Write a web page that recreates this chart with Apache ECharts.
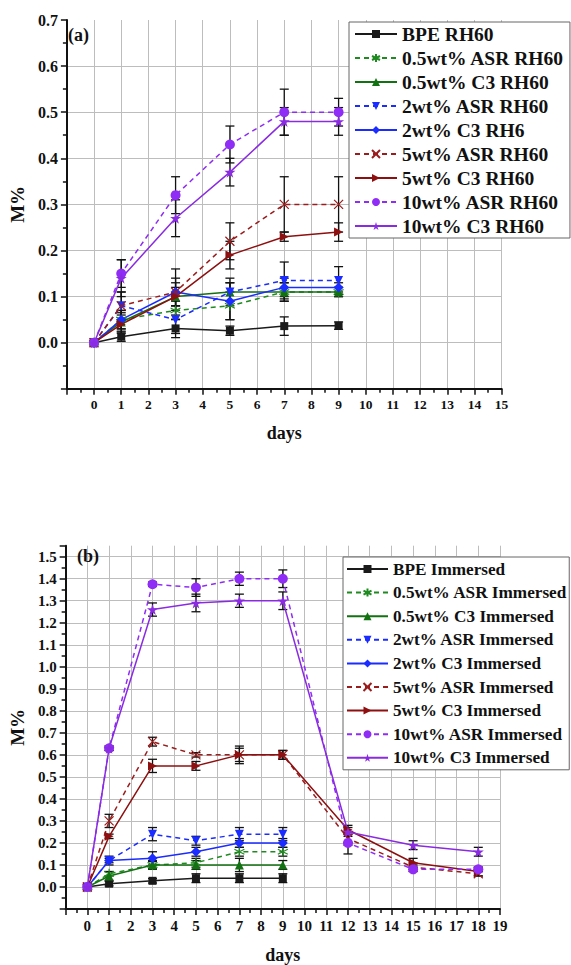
<!DOCTYPE html>
<html><head><meta charset="utf-8">
<script src="https://cdn.jsdelivr.net/npm/echarts@6/dist/echarts.min.js"></script>
<style>html,body{margin:0;padding:0;background:#fff}#c{width:571px;height:965px}</style>
</head><body><div id="c"></div>
<script>
// ---------- data ----------
const daysA = [0, 1, 3, 5, 7, 9];
const daysB = [0, 1, 3, 5, 7, 9, 12, 15, 18];
const namesA = ['BPE RH60', '0.5wt% ASR RH60', '0.5wt% C3 RH60', '2wt% ASR RH60', '2wt% C3 RH6',
  '5wt% ASR RH60', '5wt% C3 RH60', '10wt% ASR RH60', '10wt% C3 RH60'];
const namesB = ['BPE Immersed', '0.5wt% ASR Immersed', '0.5wt% C3 Immersed', '2wt% ASR Immersed', '2wt% C3 Immersed',
  '5wt% ASR Immersed', '5wt% C3 Immersed', '10wt% ASR Immersed', '10wt% C3 Immersed'];
const xTicksA = [0, 15];
const xTicksB = [0, 19];

// (a) RH60 values and errors
const aBPE = [0, 0.013, 0.031, 0.026, 0.036, 0.037];
const aBPEErr = [0, 0.01, 0.02, 0.01, 0.02, 0.008];
const aASR05 = [0, 0.05, 0.07, 0.08, 0.11, 0.11];
const aASR05Err = [0, 0.02, 0.02, 0.03, 0.02, 0.01];
const aC305 = [0, 0.045, 0.10, 0.11, 0.11, 0.11];
const aC305Err = [0, 0.02, 0.02, 0.02, 0.02, 0.01];
const aASR2 = [0, 0.08, 0.05, 0.11, 0.135, 0.135];
const aASR2Err = [0, 0.03, 0.03, 0.03, 0.04, 0.03];
const aC32 = [0, 0.05, 0.11, 0.09, 0.12, 0.12];
const aC32Err = [0, 0.02, 0.03, 0.04, 0.02, 0.01];
const aASR5 = [0, 0.08, 0.11, 0.22, 0.30, 0.30];
const aASR5Err = [0, 0.03, 0.05, 0.04, 0.06, 0.06];
const aC35 = [0, 0.04, 0.10, 0.19, 0.23, 0.24];
const aC35Err = [0, 0.02, 0.03, 0.03, 0.01, 0.02];
const aASR10 = [0, 0.15, 0.32, 0.43, 0.50, 0.50];
const aASR10Err = [0, 0.03, 0.04, 0.04, 0.05, 0.03];
const aC310 = [0, 0.14, 0.27, 0.37, 0.48, 0.48];
const aC310Err = [0, 0.04, 0.04, 0.03, 0.03, 0.03];

// (b) Immersed values and errors
const bBPE = [0, 0.015, 0.028, 0.04, 0.04, 0.04];
const bBPEErr = [0, 0.01, 0.01, 0.02, 0.02, 0.02];
const bASR05 = [0, 0.06, 0.10, 0.11, 0.16, 0.16];
const bASR05Err = [0, 0.01, 0.015, 0.02, 0.02, 0.02];
const bC305 = [0, 0.05, 0.10, 0.10, 0.10, 0.10];
const bC305Err = [0, 0.02, 0.02, 0.02, 0.03, 0.02];
const bASR2 = [0, 0.12, 0.24, 0.21, 0.24, 0.24];
const bASR2Err = [0, 0.01, 0.03, 0.02, 0.03, 0.03];
const bC32 = [0, 0.12, 0.13, 0.16, 0.20, 0.20];
const bC32Err = [0, 0.02, 0.03, 0.02, 0.02, 0.02];
const bASR5 = [0, 0.30, 0.66, 0.60, 0.60, 0.60, 0.22, 0.09, 0.06];
const bASR5Err = [0, 0.03, 0.02, 0.01, 0.03, 0.02, 0.03, 0.01, 0.01];
const bC35 = [0, 0.23, 0.55, 0.55, 0.60, 0.60, 0.26, 0.11, 0.07];
const bC35Err = [0, 0.01, 0.03, 0.02, 0.04, 0.02, 0.02, 0.02, 0.02];
const bASR10 = [0, 0.63, 1.375, 1.36, 1.40, 1.40, 0.20, 0.08, 0.08];
const bASR10Err = [0, 0.01, 0.01, 0.04, 0.03, 0.04, 0.05, 0.01, 0.01];
const bC310 = [0, 0.63, 1.26, 1.29, 1.30, 1.30, 0.25, 0.19, 0.16];
const bC310Err = [0, 0.01, 0.03, 0.04, 0.03, 0.04, 0.02, 0.02, 0.02];

// ---------- styles ----------
const FONT = '"Liberation Serif", "Times New Roman", serif';
const STAR = 'path://M50,0 L61,35 L98,35 L68,57 L79,91 L50,70 L21,91 L32,57 L2,35 L39,35 Z';
const ASTER = 'path://M5,0L5,10M0.67,2.5L9.33,7.5M0.67,7.5L9.33,2.5';
const CROSS = 'path://M0,0L10,10M10,0L0,10';
const styles = [
  {color: '#1a1a1a', dash: 'solid', symbol: 'rect', size: 8},
  {color: '#1f8a1f', dash: [5, 4], symbol: ASTER, size: 10, hollow: true},
  {color: '#127212', dash: 'solid', symbol: 'triangle', size: 9},
  {color: '#1a2cff', dash: [5, 4], symbol: 'triangle', size: 9, rotate: 180},
  {color: '#1a2cff', dash: 'solid', symbol: 'diamond', size: 10},
  {color: '#9b1c1c', dash: [5, 4], symbol: CROSS, size: 9, hollow: true},
  {color: '#8e0f0f', dash: 'solid', symbol: 'triangle', size: 9, rotate: -90},
  {color: '#8f2cf5', dash: [5, 4], symbol: 'circle', size: 10},
  {color: '#8a2be2', dash: 'solid', symbol: STAR, size: 11}
];

const setA = [[aBPE, aBPEErr], [aASR05, aASR05Err], [aC305, aC305Err], [aASR2, aASR2Err], [aC32, aC32Err],
  [aASR5, aASR5Err], [aC35, aC35Err], [aASR10, aASR10Err], [aC310, aC310Err]];
const setB = [[bBPE, bBPEErr], [bASR05, bASR05Err], [bC305, bC305Err], [bASR2, bASR2Err], [bC32, bC32Err],
  [bASR5, bASR5Err], [bC35, bC35Err], [bASR10, bASR10Err], [bC310, bC310Err]];

function errItem(params, api) {
  const x = api.value(0), lo = api.value(1), hi = api.value(2);
  const p1 = api.coord([x, hi]), p2 = api.coord([x, lo]);
  const w = 4.5;
  const st = {stroke: '#111', lineWidth: 1.3};
  return {type: 'group', children: [
    {type: 'line', shape: {x1: p1[0], y1: p1[1], x2: p2[0], y2: p2[1]}, style: st},
    {type: 'line', shape: {x1: p1[0] - w, y1: p1[1], x2: p1[0] + w, y2: p1[1]}, style: st},
    {type: 'line', shape: {x1: p2[0] - w, y1: p2[1], x2: p2[0] + w, y2: p2[1]}, style: st}
  ]};
}

const series = [];
function addSet(set, names, days, gi) {
  set.forEach((pair, i) => {
    const vals = pair[0], errs = pair[1], s = styles[i];
    const n = vals.length;
    series.push({
      type: 'custom', name: names[i] + ' err', xAxisIndex: gi, yAxisIndex: gi, z: 3,
      renderItem: errItem, encode: {x: 0, y: [1, 2]}, clip: false, silent: true,
      data: days.slice(0, n).map((d, k) => [d, vals[k] - errs[k], vals[k] + errs[k]]).filter((r, k) => errs[k] > 0)
    });
    series.push({
      type: 'line', name: names[i], xAxisIndex: gi, yAxisIndex: gi, z: 4,
      data: days.slice(0, n).map((d, k) => [d, vals[k]]),
      symbol: s.symbol, symbolSize: s.size, symbolRotate: s.rotate || 0, showAllSymbol: true,
      itemStyle: s.hollow ? {color: 'rgba(0,0,0,0)', borderColor: s.color, borderWidth: 1.2} : {color: s.color},
      lineStyle: {color: s.color, width: 1.5, type: s.dash},
      animation: false
    });
  });
}
addSet(setA, namesA, daysA, 0);
addSet(setB, namesB, daysB, 1);

function xAxisOf(gi, ticks, labelSize, nameSize, gap) {
  return {
    type: 'value', gridIndex: gi, min: ticks[0] - 1, max: ticks[1], interval: 1,
    name: 'days', nameLocation: 'middle', nameGap: gap,
    nameTextStyle: {fontFamily: FONT, fontWeight: 'bold', fontSize: nameSize, color: '#111'},
    axisLine: {onZero: false, lineStyle: {color: '#111', width: 2}},
    axisTick: {length: 6, lineStyle: {color: '#111', width: 1.5}},
    minorTick: {show: true, splitNumber: 2, length: 4, lineStyle: {color: '#111', width: 1.5}},
    axisLabel: {fontFamily: FONT, fontWeight: 'bold', fontSize: labelSize, color: '#111', margin: 9,
      formatter: v => v < 0 ? '' : String(v)},
    splitLine: {show: true, showMinLine: false, lineStyle: {color: '#bdbdbd', width: 1}}
  };
}
function yAxisOf(gi, min, max, labelSize) {
  return {
    type: 'value', gridIndex: gi, min: min, max: max, interval: 0.1,
    name: 'M%', nameLocation: 'middle', nameGap: 38, nameRotate: 90,
    nameTextStyle: {fontFamily: FONT, fontWeight: 'bold', fontSize: 19, color: '#111'},
    axisLine: {onZero: false, lineStyle: {color: '#111', width: 2}},
    axisTick: {length: 6, lineStyle: {color: '#111', width: 1.5}},
    minorTick: {show: true, splitNumber: 2, length: 4, lineStyle: {color: '#111', width: 1.5}},
    axisLabel: {fontFamily: FONT, fontWeight: 'bold', fontSize: labelSize, color: '#111', margin: 9,
      formatter: v => (v < -0.001 || Math.abs(v * 10 - Math.round(v * 10)) > 0.01) ? '' : v.toFixed(1)},
    splitLine: {show: true, showMinLine: false, showMaxLine: false, lineStyle: {color: '#bdbdbd', width: 1}}
  };
}
function legendOf(names, left, top, fontSize, padL, padR, iw, gap) {
  return {
    data: names, left: left, top: top, orient: 'vertical',
    itemWidth: iw, itemHeight: 10, itemGap: gap, padding: [2, padR, 2, padL],
    borderColor: '#666', borderWidth: 1, backgroundColor: '#fff', z: 10,
    textStyle: {fontFamily: FONT, fontWeight: 'bold', fontSize: fontSize, color: '#111', lineHeight: 20},
    selectedMode: false
  };
}

const chart = echarts.init(document.getElementById('c'), null, {renderer: 'svg'});
chart.setOption({
  animation: false,
  backgroundColor: '#fff',
  title: [
    {text: '(a)', left: 68, top: 26, padding: 0, textStyle: {fontFamily: FONT, fontWeight: 'bold', fontSize: 18, color: '#111'}},
    {text: '(b)', left: 77, top: 547, padding: 0, textStyle: {fontFamily: FONT, fontWeight: 'bold', fontSize: 18, color: '#111'}}
  ],
  grid: [
    {left: 60, top: 20, width: 441.6, height: 368.8},
    {left: 62.4, top: 545.7, width: 437.6, height: 365.5}
  ],
  xAxis: [xAxisOf(0, xTicksA, 13.5, 18, 35), xAxisOf(1, xTicksB, 15, 18, 37)],
  yAxis: [yAxisOf(0, -0.1, 0.7, 16), yAxisOf(1, -0.1, 1.55, 15)],
  legend: [legendOf(namesA, 349, 22, 19.5, 5, 6, 42, 4), legendOf(namesB, 343, 557, 17.2, 3, 2, 41, 3.6)],
  series: series
});
</script></body></html>
